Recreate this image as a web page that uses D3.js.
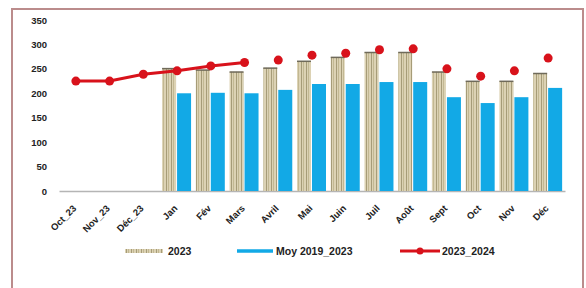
<!DOCTYPE html>
<html>
<head>
<meta charset="utf-8">
<script src="https://cdn.jsdelivr.net/npm/d3@7"></script>
<style>
  body { margin: 0; background: #fff; }
  svg text { font-family: "Liberation Sans", Arial, sans-serif; font-weight: bold; fill: #222; }
</style>
</head>
<body>
<svg width="586" height="288"></svg>
<script>
// categories along the x axis
var months = ["Oct_23", "Nov_23", "Déc_23", "Jan", "Fév", "Mars", "Avril", "Mai", "Juin", "Juil", "Août", "Sept", "Oct", "Nov", "Déc"];
// 2023 bars (no value for the first three months)
var bars2023 = [null, null, null, 251, 248, 244, 252, 266, 274, 284, 284, 244, 225, 225, 241];
// Moy 2019_2023 bars
var barsMoy = [null, null, null, 200, 201, 200, 207, 219, 219, 223, 223, 192, 180, 192, 211];
// 2023_2024 line / markers
var line2324 = [225, 225, 239, 246, 256, 263, 268, 278, 282, 289, 291, 250, 235, 246, 272];
var lineLinked = 6; // points joined by the line, the rest are markers only
var yTicks = [0, 50, 100, 150, 200, 250, 300, 350];

var svg = d3.select("svg");
var red = "#d8121b", blue = "#12a9e6";

// outer frame
svg.append("rect")
    .attr("x", 12).attr("y", 9)
    .attr("width", 571).attr("height", 284)
    .attr("fill", "none")
    .attr("stroke", "#bb8c8c")
    .attr("stroke-width", 2);

// striped fill for the 2023 bars
var defs = svg.append("defs");
var pat = defs.append("pattern")
    .attr("id", "stripes")
    .attr("patternUnits", "userSpaceOnUse")
    .attr("width", 5).attr("height", 10);
pat.append("rect").attr("width", 5).attr("height", 10).attr("fill", "#dcd2b4");
pat.append("rect").attr("x", 1).attr("width", 1).attr("height", 10).attr("fill", "#a69c78");
pat.append("rect").attr("x", 3).attr("width", 1).attr("height", 10).attr("fill", "#c2b892");

var x = d3.scaleBand().domain(months).range([59, 565]).padding(0);
var y = d3.scaleLinear().domain([0, 350]).range([191, 20]);
function cx(d) { return x(d) + x.bandwidth() / 2; }

// y axis labels (no axis line)
var yAxis = svg.append("g")
    .attr("transform", "translate(47,0)")
    .call(d3.axisLeft(y).tickValues(yTicks).tickSize(0).tickPadding(0));
yAxis.select(".domain").remove();
yAxis.selectAll("text").style("font-size", "9.5px").style("font-family", "Liberation Sans").style("font-weight", "bold").attr("fill", "#222");

// x axis baseline
var xAxis = svg.append("g")
    .attr("transform", "translate(0," + y(0) + ")")
    .call(d3.axisBottom(x).tickSize(0).tickPadding(0));
xAxis.select(".domain").attr("stroke", "#b5b5b5").attr("stroke-width", 1.5);
xAxis.selectAll("text")
    .style("font-size", "9.5px").style("font-family", "Liberation Sans").style("font-weight", "bold")
    .attr("fill", "#222")
    .attr("text-anchor", "end")
    .attr("dx", 0).attr("dy", 0)
    .attr("transform", "translate(1,18) rotate(-45)");

// 2023 bars
var b1 = svg.append("g").selectAll("g")
    .data(months.map(function(m, i) { return {m: m, v: bars2023[i]}; }).filter(function(d) { return d.v != null; }))
    .enter().append("g");
b1.append("rect")
    .attr("x", function(d) { return cx(d.m) - 15; })
    .attr("y", function(d) { return y(d.v); })
    .attr("width", 14)
    .attr("height", function(d) { return y(0) - y(d.v); })
    .attr("fill", "url(#stripes)");
b1.append("rect")
    .attr("x", function(d) { return cx(d.m) - 15; })
    .attr("y", function(d) { return y(d.v) - 0.5; })
    .attr("width", 14).attr("height", 1.5)
    .attr("fill", "#6f6a5a");

// Moy 2019_2023 bars
svg.append("g").selectAll("rect")
    .data(months.map(function(m, i) { return {m: m, v: barsMoy[i]}; }).filter(function(d) { return d.v != null; }))
    .enter().append("rect")
    .attr("x", function(d) { return cx(d.m); })
    .attr("y", function(d) { return y(d.v); })
    .attr("width", 14)
    .attr("height", function(d) { return y(0) - y(d.v); })
    .attr("fill", blue);

// 2023_2024 line and markers
var pts = months.map(function(m, i) { return {m: m, v: line2324[i]}; });
var line = d3.line()
    .x(function(d) { return cx(d.m); })
    .y(function(d) { return y(d.v); });
svg.append("path")
    .attr("d", line(pts.slice(0, lineLinked)))
    .attr("fill", "none")
    .attr("stroke", red)
    .attr("stroke-width", 3);
svg.append("g").selectAll("circle")
    .data(pts)
    .enter().append("circle")
    .attr("cx", function(d) { return cx(d.m); })
    .attr("cy", function(d) { return y(d.v); })
    .attr("r", 4.5)
    .attr("fill", red);

// legend
var lg = svg.append("g");
lg.append("rect").attr("x", 125).attr("y", 249).attr("width", 38).attr("height", 4).attr("fill", "url(#stripes)");
lg.append("text").attr("x", 168).attr("y", 255).style("font-size", "10.5px").text("2023");
lg.append("line").attr("x1", 237).attr("x2", 273).attr("y1", 251).attr("y2", 251)
    .attr("stroke", blue).attr("stroke-width", 3.5);
lg.append("text").attr("x", 276).attr("y", 255).style("font-size", "10.5px").text("Moy 2019_2023");
lg.append("line").attr("x1", 400).attr("x2", 440).attr("y1", 251).attr("y2", 251)
    .attr("stroke", red).attr("stroke-width", 3);
lg.append("circle").attr("cx", 420).attr("cy", 251).attr("r", 3.5).attr("fill", red);
lg.append("text").attr("x", 442).attr("y", 255).style("font-size", "10.5px").text("2023_2024");
</script>
</body>
</html>
